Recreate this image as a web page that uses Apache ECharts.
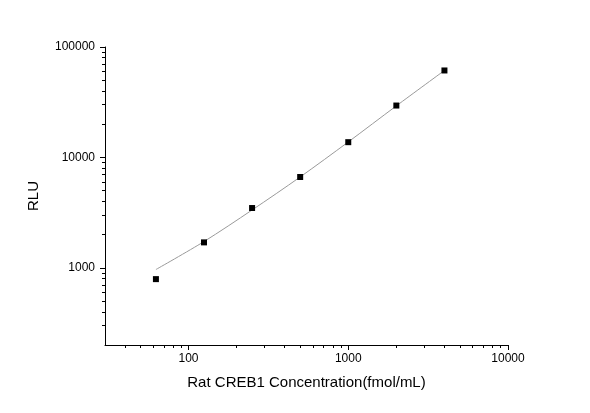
<!DOCTYPE html>
<html lang="en">
  <head>
    <meta charset="UTF-8" />
    <title>Rat CREB1 standard curve</title>
    <script src="https://cdn.jsdelivr.net/npm/echarts@6.0.0/dist/echarts.min.js"></script>
    <style>
      html, body { margin: 0; padding: 0; background: #fff; }
    </style>
  </head>

  <body>
    <div id="main" style="width: 590px; height: 413px"></div>

    <script type="text/javascript">
      // standard points (concentration, RLU)
      const concentrations = [62.5, 125, 250, 500, 1000, 2000, 4000];
      const rluValues = [790, 1700, 3480, 6650, 13740, 29500, 61300];

      // fitted curve
      const fitConc = [62.5, 125, 250, 500, 1000, 2000, 4000];
      const fitRlu = [965, 1730, 3340, 6650, 13800, 29300, 61300];

      // tick labels and minor ticks
      const xMajor = [100, 1000, 10000];
      const xMinor = [40, 50, 60, 70, 80, 90, 200, 300, 400, 500, 600, 700, 800, 900,
        2000, 3000, 4000, 5000, 6000, 7000, 8000, 9000];
      const yMajor = [1000, 10000, 100000];
      const yMinor = [300, 400, 500, 600, 700, 800, 900, 2000, 3000, 4000, 5000, 6000, 7000, 8000, 9000,
        20000, 30000, 40000, 50000, 60000, 70000, 80000, 90000];

      const font = '"Liberation Sans", Arial, sans-serif';

      let myChart = echarts.init(document.getElementById("main"));

      const axisLine = { lineStyle: { color: "#000", width: 1 } };
      const plain = (v) => String(v); // no thousands separators

      let options = {
        animation: false,
        grid: { left: 105, right: 82, top: 47, bottom: 68 },
        xAxis: [
          {
            type: "log",
            logBase: 10,
            min: 30,
            max: 10000,
            name: "Rat CREB1 Concentration(fmol/mL)",
            nameLocation: "middle",
            nameGap: 30,
            nameTextStyle: { fontFamily: font, fontSize: 15, color: "#000" },
            axisLine: axisLine,
            axisTick: { customValues: xMajor, length: 5, lineStyle: { color: "#000" } },
            axisLabel: { customValues: xMajor, formatter: plain, fontFamily: font, fontSize: 12, color: "#000", margin: 8 },
            splitLine: { show: false },
          },
          {
            type: "log",
            logBase: 10,
            min: 30,
            max: 10000,
            position: "bottom",
            offset: 0,
            axisLine: { show: false },
            axisTick: { customValues: xMinor, length: 3, lineStyle: { color: "#000" } },
            axisLabel: { show: false },
            splitLine: { show: false },
          },
        ],
        yAxis: [
          {
            type: "log",
            logBase: 10,
            min: 200,
            max: 100000,
            name: "RLU",
            nameLocation: "middle",
            nameGap: 64,
            nameTextStyle: { fontFamily: font, fontSize: 15, color: "#000" },
            axisLine: axisLine,
            axisTick: { customValues: yMajor, length: 5, lineStyle: { color: "#000" } },
            axisLabel: { customValues: yMajor, formatter: plain, fontFamily: font, fontSize: 12, color: "#000", margin: 10 },
            splitLine: { show: false },
          },
          {
            type: "log",
            logBase: 10,
            min: 200,
            max: 100000,
            position: "left",
            offset: 0,
            axisLine: { show: false },
            axisTick: { customValues: yMinor, length: 3, lineStyle: { color: "#000" } },
            axisLabel: { show: false },
            splitLine: { show: false },
          },
        ],
        series: [
          {
            name: "fit",
            type: "line",
            smooth: 0.3,
            showSymbol: false,
            symbol: "none",
            lineStyle: { color: "#9a9a9a", width: 1 },
            data: fitConc.map((c, i) => [c, fitRlu[i]]),
            z: 1,
          },
          {
            name: "standards",
            type: "scatter",
            symbol: "rect",
            symbolSize: 6,
            itemStyle: { color: "#000", opacity: 1 },
            data: concentrations.map((c, i) => [c, rluValues[i]]),
            z: 2,
          },
        ],
      };

      myChart.setOption(options);
    </script>
  </body>
</html>
